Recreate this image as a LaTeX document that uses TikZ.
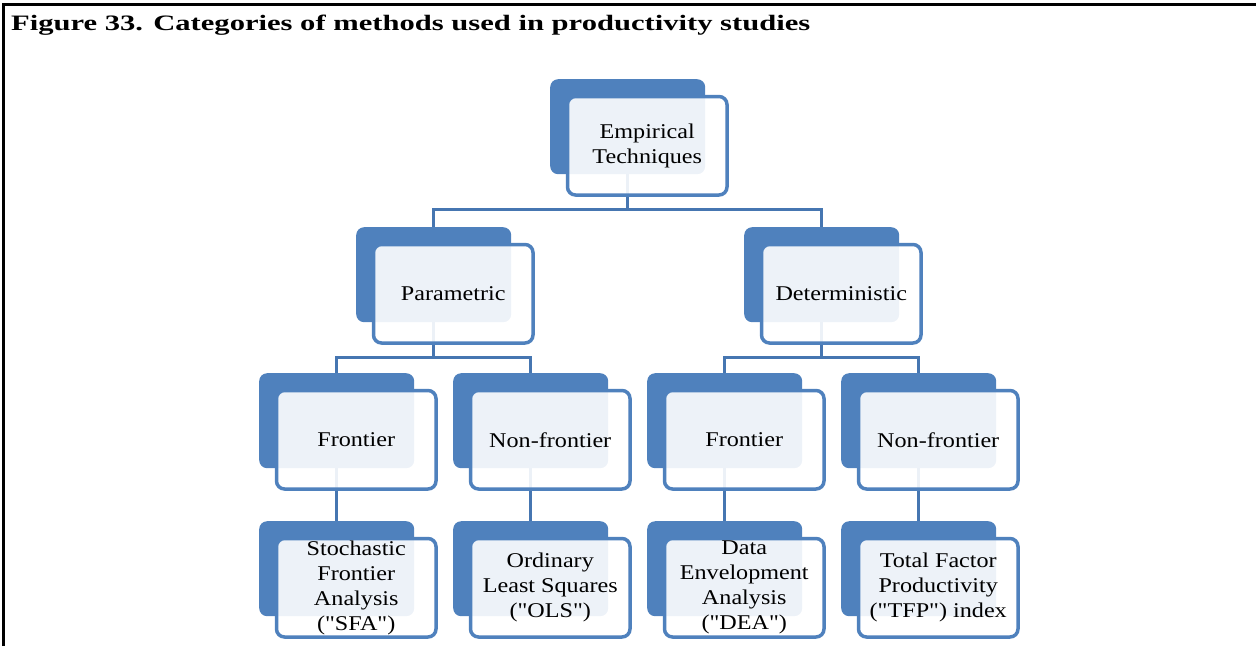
\documentclass[tikz,border=0pt]{standalone}
\usepackage{fontspec}
\setmainfont{Liberation Serif}[FakeStretch=1.15, Ligatures=TeXOff]
\newfontfamily\captionfont{Liberation Serif}[FakeStretch=1.39]
\definecolor{accent}{HTML}{4F81BD}
\definecolor{linkblue}{HTML}{4676B1}

% back plate of a block, top-left corner at (#2,#3)
\newcommand\orgback[3]{\node[backbox] (#1b) at (#2,#3) {};}
% front card of a block with its caption
\newcommand\orgfront[4]{%
  \node[frontbox] (#1) at (#2+15.75,#3+15.75) {};
  \node[lbl] (#1t) at (#1.center) {#4};}

\begin{document}
\begin{tikzpicture}[x=1pt,y=-1pt,
  backbox/.style={fill=accent, rounded corners=8pt, minimum width=155pt,
    minimum height=95pt, anchor=north west, inner sep=0pt},
  frontbox/.style={draw=accent, line width=3.5pt, fill=white, fill opacity=0.9,
    rounded corners=8pt, minimum width=159.5pt, minimum height=98.5pt,
    anchor=north west, inner sep=0pt},
  lbl/.style={align=center, font=\fontsize{21}{25}\selectfont, text=black, inner sep=0pt},
  conn/.style={draw=linkblue, line width=3.5pt},
  frame/.style={draw=black, line width=2.5pt}]
\useasboundingbox (0,0) rectangle (1256,646);

% outer frame and caption
\draw[frame] (3.5,646) -- (3.5,4.5) -- (1256,4.5);
\node[anchor=base west, inner sep=0pt, font=\captionfont\bfseries\fontsize{22}{25}\selectfont]
  (title) at (11,30) {Figure 33. Categories of methods used in productivity studies};

% back plates
\orgback{top}{550}{79}
\orgback{par}{356}{227}
\orgback{det}{744}{227}
\orgback{pf}{259}{373}
\orgback{pn}{453}{373}
\orgback{df}{647}{373}
\orgback{dn}{841}{373}
\orgback{sfa}{259}{521}
\orgback{ols}{453}{521}
\orgback{dea}{647}{521}
\orgback{tfp}{841}{521}

% connectors
\draw[conn] (topb.south) -- ++(0,35) -| (parb.north);
\draw[conn] (topb.south) -- ++(0,35) -| (detb.north);
\draw[conn] (parb.south) -- ++(0,35) -| (pfb.north);
\draw[conn] (parb.south) -- ++(0,35) -| (pnb.north);
\draw[conn] (detb.south) -- ++(0,35) -| (dfb.north);
\draw[conn] (detb.south) -- ++(0,35) -| (dnb.north);
\draw[conn] (pfb.south) -- (sfab.north);
\draw[conn] (pnb.south) -- (olsb.north);
\draw[conn] (dfb.south) -- (deab.north);
\draw[conn] (dnb.south) -- (tfpb.north);

% front cards
\orgfront{top}{550}{79}{Empirical\\Techniques}
\orgfront{par}{356}{227}{Parametric}
\orgfront{det}{744}{227}{Deterministic}
\orgfront{pf}{259}{373}{Frontier}
\orgfront{pn}{453}{373}{Non-frontier}
\orgfront{df}{647}{373}{Frontier}
\orgfront{dn}{841}{373}{Non-frontier}
\orgfront{sfa}{259}{521}{Stochastic\\Frontier\\Analysis\\("SFA")}
\orgfront{ols}{453}{521}{Ordinary\\Least Squares\\("OLS")}
\orgfront{dea}{647}{521}{Data\\Envelopment\\Analysis\\("DEA")}
\orgfront{tfp}{841}{521}{Total Factor\\Productivity\\("TFP") index}
\end{tikzpicture}
\end{document}
